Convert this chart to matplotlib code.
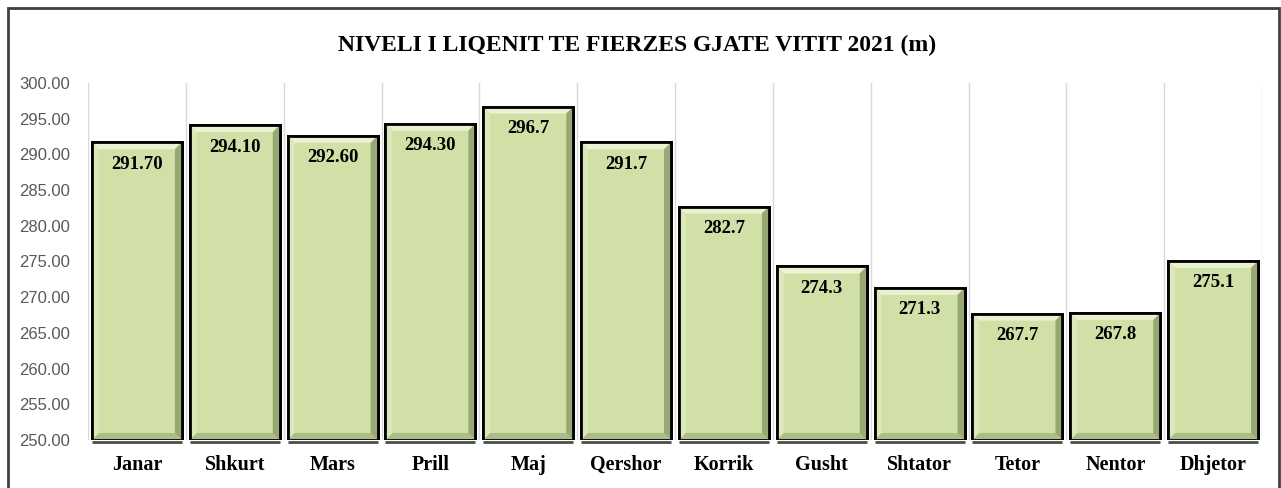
import matplotlib.pyplot as plt
import matplotlib.patches as mpatches

# te dhenat
muajt = ['Janar', 'Shkurt', 'Mars', 'Prill', 'Maj', 'Qershor', 'Korrik',
         'Gusht', 'Shtator', 'Tetor', 'Nentor', 'Dhjetor']
niveli = [291.70, 294.10, 292.60, 294.30, 296.7, 291.7, 282.7,
          274.3, 271.3, 267.7, 267.8, 275.1]
etiketat = ['291.70', '294.10', '292.60', '294.30', '296.7', '291.7', '282.7',
            '274.3', '271.3', '267.7', '267.8', '275.1']
y_ticks = [250, 255, 260, 265, 270, 275, 280, 285, 290, 295, 300]
titulli = 'NIVELI I LIQENIT TE FIERZES GJATE VITIT 2021 (m)'

W, H, dpi = 1281, 488, 100
fig = plt.figure(figsize=(W / dpi, H / dpi), dpi=dpi)
ax = fig.add_axes([88 / W, 48 / H, (1262 - 88) / W, (405 - 48) / H])

ymin, ymax = 250, 300
ax.set_xlim(-0.5, len(muajt) - 0.5)
ax.set_ylim(ymin, ymax)

serif = ['Liberation Serif', 'DejaVu Serif']
face = '#D0E0A6'
bw = 0.92

# pixel -> data
px_x = (len(muajt)) / (1262 - 88)
px_y = (ymax - ymin) / (405 - 48)
bx, by = 7 * px_x, 7 * px_y

for i in range(len(muajt) + 1):
    ax.axvline(i - 0.5, color='#D9D9D9', lw=1, zorder=0)

bars = ax.bar(range(len(muajt)), [v - ymin for v in niveli], bottom=ymin,
              width=bw, color=face, edgecolor='black', lw=2, zorder=2)

for i, (b, v, lab) in enumerate(zip(bars, niveli, etiketat)):
    x0, x1 = i - bw / 2, i + bw / 2
    y0, y1 = ymin, v
    # efekti bevel
    top = [(x0, y1), (x1, y1), (x1 - bx, y1 - by), (x0 + bx, y1 - by)]
    left = [(x0, y0), (x0, y1), (x0 + bx, y1 - by), (x0 + bx, y0 + by)]
    bot = [(x0, y0), (x1, y0), (x1 - bx, y0 + by), (x0 + bx, y0 + by)]
    right = [(x1, y0), (x1, y1), (x1 - bx, y1 - by), (x1 - bx, y0 + by)]
    for pts, c in [(top, '#EAF2D2'), (left, '#DCE8BA'),
                   (bot, '#ADBD8A'), (right, '#98A874')]:
        ax.add_patch(mpatches.Polygon(pts, closed=True, fc=c, ec='none',
                                      zorder=2.5))
    ax.add_patch(mpatches.Rectangle((x0, y0), bw, y1 - y0, fill=False,
                                    ec='black', lw=2, zorder=3))
    ax.text(i, v - 1.9, lab, ha='center', va='top', fontsize=13.5,
            fontweight='bold', family=serif, zorder=4)

# hija poshte shtyllave
for i in range(len(muajt)):
    ax.plot([i - bw / 2, i + bw / 2], [ymin - 0.35, ymin - 0.35],
            color='#4D4D4D', lw=2, clip_on=False, zorder=1,
            solid_capstyle='butt')

ax.set_yticks(y_ticks)
ax.set_yticklabels(['%.2f' % t for t in y_ticks], fontsize=12,
                   color='#595959', family=['Liberation Sans', 'DejaVu Sans'])
ax.set_xticks(range(len(muajt)))
ax.set_xticklabels(muajt, fontsize=14.5, fontweight='bold', family=serif)
ax.tick_params(axis='both', length=0)
ax.tick_params(axis='x', pad=11)
ax.tick_params(axis='y', pad=13)
for s in ax.spines.values():
    s.set_visible(False)

fig.text(637 / W, 1 - 45 / H, titulli, ha='center', va='center',
         fontsize=17, fontweight='bold', family=serif)

# korniza
fig.patches.append(mpatches.Rectangle((8 / W, -0.02), (1279 - 8) / W,
                                      1.02 - 8 / H, transform=fig.transFigure,
                                      fill=False, ec='#404040', lw=2))

fig.savefig('out.png', dpi=dpi)
